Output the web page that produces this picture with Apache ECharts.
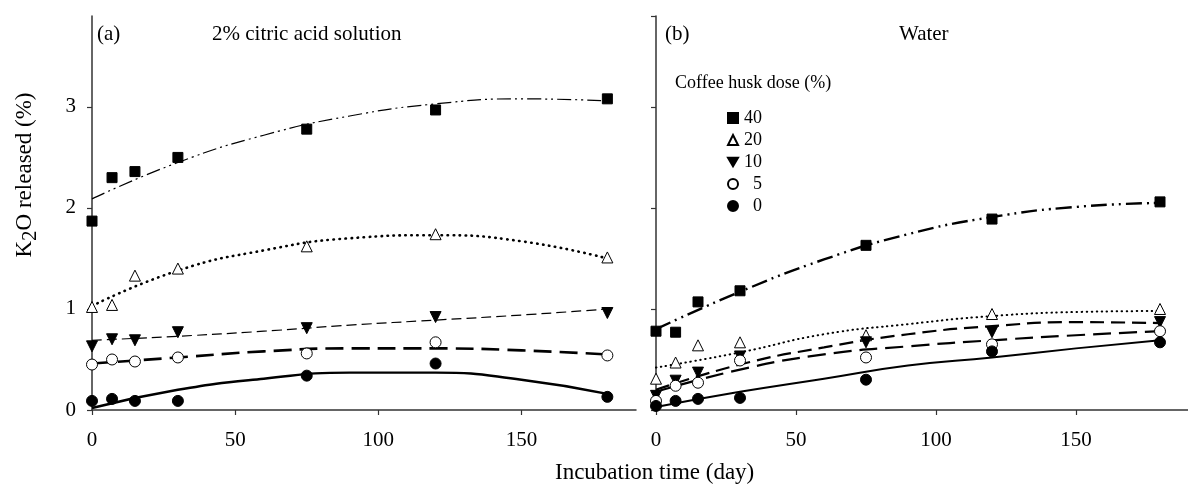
<!DOCTYPE html>
<html>
<head>
<meta charset="utf-8">
<script src="https://cdn.jsdelivr.net/npm/echarts@6/dist/echarts.min.js"></script>
<style>
  html, body { margin: 0; padding: 0; background: #fff; }
  #main { width: 1188px; height: 486px; }
</style>
</head>
<body>
<div id="main"></div>
<script>
// sampling days and dose groups
const days = [0, 7, 15, 30, 75, 120, 180]
const fitDays = [0, 30, 60, 90, 120, 150, 180]
const doses = ['40', '20', '10', '5', '0']

// (a) 2% citric acid solution - measured
const citric40 = [1.87, 2.30, 2.36, 2.50, 2.78, 2.97, 3.08]
const citric20 = [1.02, 1.04, 1.33, 1.40, 1.62, 1.74, 1.51]
const citric10 = [0.63, 0.70, 0.69, 0.77, 0.81, 0.92, 0.96]
const citric5 = [0.45, 0.50, 0.48, 0.52, 0.56, 0.67, 0.54]
const citric0 = [0.09, 0.11, 0.09, 0.09, 0.34, 0.46, 0.13]
// (a) fitted curves
const citricFit40 = [2.09, 2.45, 2.72, 2.91, 3.03, 3.08, 3.06]
const citricFit20 = [1.03, 1.38, 1.58, 1.70, 1.73, 1.67, 1.50]
const citricFit10 = [0.69, 0.73, 0.78, 0.84, 0.89, 0.94, 1.00]
const citricFit5 = [0.46, 0.52, 0.58, 0.61, 0.61, 0.59, 0.55]
const citricFit0 = [0.02, 0.20, 0.31, 0.37, 0.37, 0.30, 0.16]

// (b) water - measured
const water40 = [0.78, 0.77, 1.07, 1.18, 1.63, 1.89, 2.06]
const water20 = [0.31, 0.47, 0.64, 0.67, 0.74, 0.95, 1.00]
const water10 = [0.14, 0.29, 0.37, 0.53, 0.67, 0.77, 0.87]
const water5 = [0.09, 0.24, 0.27, 0.49, 0.52, 0.65, 0.78]
const water0 = [0.04, 0.09, 0.11, 0.12, 0.30, 0.58, 0.67]
// (b) fitted curves
const waterFit40 = [0.80, 1.17, 1.49, 1.74, 1.91, 2.01, 2.05]
const waterFit20 = [0.42, 0.57, 0.75, 0.85, 0.93, 0.97, 0.98]
const waterFit10 = [0.20, 0.45, 0.62, 0.75, 0.83, 0.87, 0.86]
const waterFit5 = [0.18, 0.40, 0.55, 0.63, 0.69, 0.74, 0.78]
const waterFit0 = [0.03, 0.18, 0.31, 0.44, 0.52, 0.61, 0.69]

const FONT = 'Liberation Serif'

const pair = (xs, ys) => xs.map((x, i) => [x, ys[i]])

// marker per dose (down triangle drawn as a path so the legend shows it too)
const marks = {
  '40': { symbol: 'rect', fill: '#000', size: 10 },
  '20': { symbol: 'triangle', fill: '#fff', size: 11 },
  '10': { symbol: 'path://M0,0L20,0L10,17Z', fill: '#000', size: 11 },
  '5': { symbol: 'circle', fill: '#fff', size: 11 },
  '0': { symbol: 'circle', fill: '#000', size: 11 }
}

// line style per dose and panel
const lineStyles = {
  a: {
    '40': { width: 1.2, type: [14, 4, 2, 4, 2, 4] },
    '20': { width: 2.6, type: [0.5, 5.5], cap: 'round' },
    '10': { width: 1.2, type: [10, 5] },
    '5': { width: 2.6, type: [18, 8] },
    '0': { width: 2.4, type: 'solid' }
  },
  b: {
    '40': { width: 2.4, type: [16, 5, 2, 5, 2, 5] },
    '20': { width: 2, type: [0.5, 4.5], cap: 'round' },
    '10': { width: 2.2, type: [14, 7] },
    '5': { width: 2.2, type: [18, 8] },
    '0': { width: 2, type: 'solid' }
  }
}

const measured = {
  a: [citric40, citric20, citric10, citric5, citric0],
  b: [water40, water20, water10, water5, water0]
}
const fitted = {
  a: [citricFit40, citricFit20, citricFit10, citricFit5, citricFit0],
  b: [waterFit40, waterFit20, waterFit10, waterFit5, waterFit0]
}

const series = []
;['a', 'b'].forEach((panel, p) => {
  doses.forEach((d, i) => {
    const ls = lineStyles[panel][d]
    series.push({
      name: 'fit-' + panel + d,
      type: 'line',
      xAxisIndex: p,
      yAxisIndex: p,
      data: pair(fitDays, fitted[panel][i]),
      smooth: 0.5,
      showSymbol: false,
      symbol: 'none',
      silent: true,
      z: 2,
      lineStyle: Object.assign({ color: '#000' }, ls)
    })
  })
  doses.forEach((d, i) => {
    const m = marks[d]
    series.push({
      name: d,
      type: 'scatter',
      xAxisIndex: p,
      yAxisIndex: p,
      data: pair(days, measured[panel][i]),
      symbol: m.symbol,
      symbolSize: m.size,
      z: 5,
      itemStyle: { color: m.fill, borderColor: '#000', borderWidth: 1, opacity: 1 }
    })
  })
})

const axisText = { fontFamily: FONT, fontSize: 21, color: '#000' }

function xAxis (idx) {
  return {
    type: 'value',
    gridIndex: idx,
    min: 0,
    max: 190,
    interval: 50,
    splitLine: { show: false },
    axisLine: { onZero: false, lineStyle: { color: '#333', width: 1.5 } },
    axisTick: { show: true, length: 5, lineStyle: { color: '#333', width: 1.2 } },
    axisLabel: Object.assign({ margin: 20, showMaxLabel: false }, axisText)
  }
}

function yAxis (idx, showLabel) {
  return {
    type: 'value',
    gridIndex: idx,
    min: 0,
    max: 3.9,
    interval: 1,
    splitLine: { show: false },
    axisLine: { show: true, lineStyle: { color: '#333', width: 1.5 } },
    axisTick: { show: true, length: 5, lineStyle: { color: '#333', width: 1.2 } },
    axisLabel: Object.assign({ show: showLabel, margin: 16, showMaxLabel: false }, axisText)
  }
}

const chart = echarts.init(document.getElementById('main'), null, { renderer: 'canvas' })
chart.setOption({
  backgroundColor: '#fff',
  animation: false,
  textStyle: { fontFamily: FONT },
  grid: [
    { left: 92, top: 16, width: 544, bottom: 76 },
    { left: 656, top: 16, width: 544, bottom: 76 }
  ],
  xAxis: [xAxis(0), xAxis(1)],
  yAxis: [yAxis(0, true), yAxis(1, false)],
  legend: {
    data: doses,
    orient: 'vertical',
    left: 722,
    top: 104,
    itemWidth: 10,
    itemHeight: 10,
    itemGap: 4,
    selectedMode: false,
    formatter: name => '{n|' + name + '}',
    textStyle: {
      fontFamily: FONT,
      fontSize: 18,
      color: '#000',
      rich: { n: { width: 19, align: 'right', fontFamily: FONT, fontSize: 18, lineHeight: 18 } }
    }
  },
  graphic: [
    { type: 'text', left: 97, top: 24, style: { text: '(a)', font: '21px "Liberation Serif"', fill: '#000' } },
    { type: 'text', left: 212, top: 24, style: { text: '2% citric acid solution', font: '21px "Liberation Serif"', fill: '#000' } },
    { type: 'text', left: 665, top: 24, style: { text: '(b)', font: '21px "Liberation Serif"', fill: '#000' } },
    { type: 'text', left: 899, top: 24, style: { text: 'Water', font: '21px "Liberation Serif"', fill: '#000' } },
    { type: 'text', left: 675, top: 74, style: { text: 'Coffee husk dose (%)', font: '18px "Liberation Serif"', fill: '#000' } },
    { type: 'text', left: 555, top: 461, style: { text: 'Incubation time (day)', font: '23px "Liberation Serif"', fill: '#000' } },
    {
      type: 'text',
      x: 25,
      y: 175,
      rotation: Math.PI / 2,
      style: {
        text: '{t|K}{s|2}{t|O released (%)}',
        align: 'center',
        verticalAlign: 'middle',
        rich: {
          t: { fontFamily: FONT, fontSize: 23, fill: '#000', lineHeight: 32 },
          s: { fontFamily: FONT, fontSize: 21, fill: '#000', lineHeight: 18, verticalAlign: 'bottom' }
        }
      }
    }
  ],
  series: series
})
</script>
</body>
</html>
